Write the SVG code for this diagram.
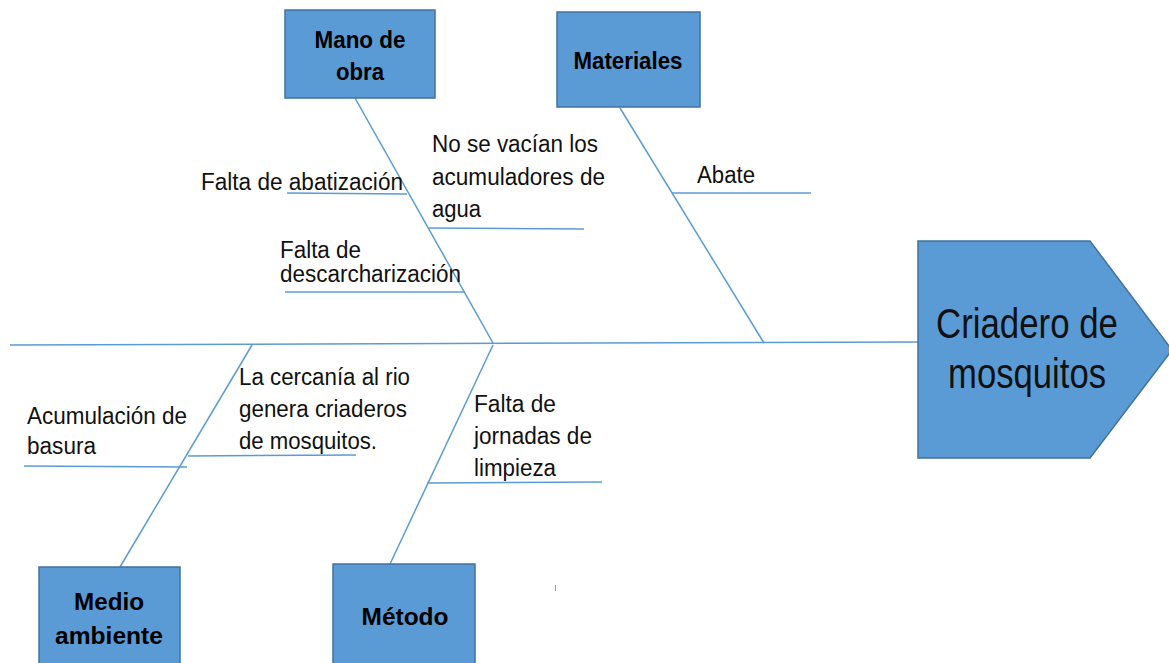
<svg xmlns="http://www.w3.org/2000/svg" width="1169" height="663" viewBox="0 0 1169 663">
<style>
.box{fill:#5B9BD5;stroke:#41719C;stroke-width:1.5}
.ln{stroke:#5B9BD5;stroke-width:1.5;fill:none}
.lbl{font-family:"Liberation Sans",Arial,sans-serif;font-size:23.5px;fill:#111}
.hd{font-family:"Liberation Sans",Arial,sans-serif;font-size:24.5px;font-weight:bold;fill:#000;text-anchor:middle}
.big{font-family:"Liberation Sans",Arial,sans-serif;font-size:42px;fill:#111;text-anchor:middle}
</style>
<rect width="1169" height="663" fill="#fff"/>
<g id="connectors">
<line class="ln" x1="10" y1="345" x2="918" y2="342"/>
<line class="ln" x1="355" y1="98" x2="493" y2="343"/>
<line class="ln" x1="620" y1="108" x2="764" y2="343"/>
<line class="ln" x1="252" y1="345" x2="120" y2="567"/>
<line class="ln" x1="493" y1="345" x2="390" y2="564"/>
<line class="ln" x1="287" y1="193" x2="407" y2="194"/>
<line class="ln" x1="429" y1="228" x2="584" y2="229"/>
<line class="ln" x1="285" y1="292" x2="465" y2="292"/>
<line class="ln" x1="672" y1="193" x2="811" y2="193"/>
<line class="ln" x1="188" y1="456" x2="356" y2="455"/>
<line class="ln" x1="24" y1="466" x2="187" y2="467"/>
<line class="ln" x1="427" y1="483" x2="602" y2="482"/>
</g>
<g id="mano-de-obra">
<rect class="box" x="285" y="10" width="150" height="88"/>
<text class="hd" x="360" y="48" textLength="91" lengthAdjust="spacingAndGlyphs">Mano de</text>
<text class="hd" x="360" y="80" textLength="48" lengthAdjust="spacingAndGlyphs">obra</text>
</g>
<g id="materiales">
<rect class="box" x="557" y="12" width="143" height="95"/>
<text class="hd" x="628" y="69" textLength="109" lengthAdjust="spacingAndGlyphs">Materiales</text>
</g>
<g id="medio-ambiente">
<rect class="box" x="39" y="567" width="141" height="100"/>
<text class="hd" x="109" y="610" textLength="70" lengthAdjust="spacingAndGlyphs">Medio</text>
<text class="hd" x="109" y="644" textLength="108" lengthAdjust="spacingAndGlyphs">ambiente</text>
</g>
<g id="metodo">
<rect class="box" x="333" y="564" width="142" height="103"/>
<text class="hd" x="405" y="625" textLength="87" lengthAdjust="spacingAndGlyphs">Método</text>
</g>
<g id="criadero">
<polygon class="box" points="918,241 1090,241 1172,350 1090,458 918,458"/>
<text class="big" x="1027" y="338" textLength="182" lengthAdjust="spacingAndGlyphs">Criadero de</text>
<text class="big" x="1027" y="388" textLength="158" lengthAdjust="spacingAndGlyphs">mosquitos</text>
</g>
<g id="causes">
<text class="lbl" x="201" y="190" textLength="202" lengthAdjust="spacingAndGlyphs">Falta de abatización</text>
<text class="lbl" x="432" y="152" textLength="166" lengthAdjust="spacingAndGlyphs">No se vacían los</text>
<text class="lbl" x="432" y="185" textLength="173" lengthAdjust="spacingAndGlyphs">acumuladores de</text>
<text class="lbl" x="432" y="217" textLength="49" lengthAdjust="spacingAndGlyphs">agua</text>
<text class="lbl" x="280" y="258" textLength="81" lengthAdjust="spacingAndGlyphs">Falta de</text>
<text class="lbl" x="280" y="282" textLength="181" lengthAdjust="spacingAndGlyphs">descarcharización</text>
<text class="lbl" x="697" y="183" textLength="58" lengthAdjust="spacingAndGlyphs">Abate</text>
<text class="lbl" x="239" y="385" textLength="171" lengthAdjust="spacingAndGlyphs">La cercanía al rio</text>
<text class="lbl" x="239" y="417" textLength="168" lengthAdjust="spacingAndGlyphs">genera criaderos</text>
<text class="lbl" x="239" y="449" textLength="138" lengthAdjust="spacingAndGlyphs">de mosquitos.</text>
<text class="lbl" x="27" y="424" textLength="160" lengthAdjust="spacingAndGlyphs">Acumulación de</text>
<text class="lbl" x="27" y="454" textLength="69" lengthAdjust="spacingAndGlyphs">basura</text>
<text class="lbl" x="474" y="412" textLength="82" lengthAdjust="spacingAndGlyphs">Falta de</text>
<text class="lbl" x="474" y="444" textLength="118" lengthAdjust="spacingAndGlyphs">jornadas de</text>
<text class="lbl" x="474" y="476" textLength="82" lengthAdjust="spacingAndGlyphs">limpieza</text>
</g>
<line x1="555.5" y1="585" x2="555.5" y2="591" stroke="#999" stroke-width="1"/>
</svg>
